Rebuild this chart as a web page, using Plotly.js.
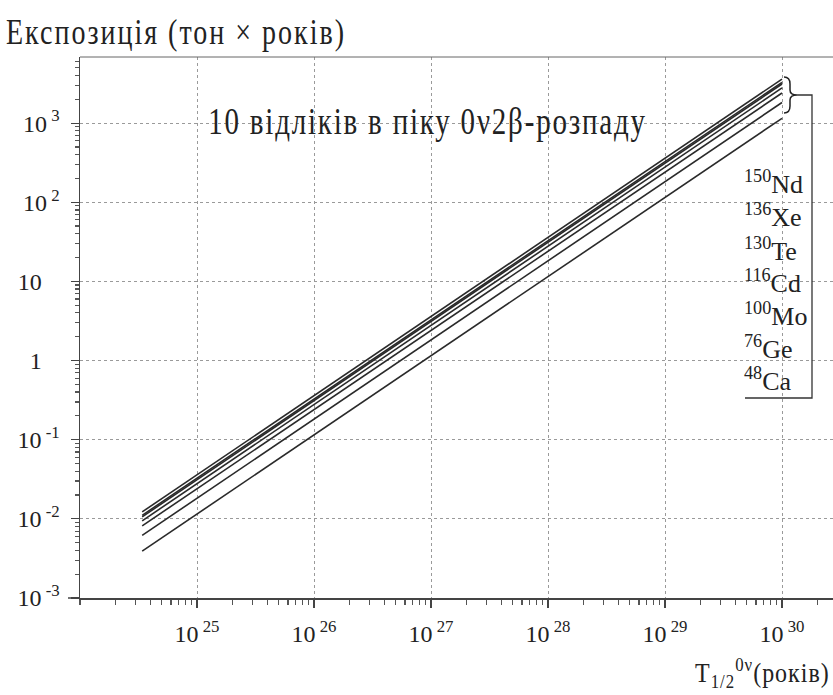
<!DOCTYPE html>
<html>
<head>
<meta charset="utf-8">
<script src="https://cdn.plot.ly/plotly-3.0.1.min.js"></script>
<style>
html,body{margin:0;padding:0;background:#fff;}
#chart{width:833px;height:695px;}
</style>
</head>
<body>
<div id="chart"></div>
<script>
// ---- data ----
const halfLife = [3.4e24, 1e30];                       // T1/2 (years), start and end of every line
const massNumbers = ['150', '136', '130', '116', '100', '76', '48'];
const elements = ['Nd', 'Xe', 'Te', 'Cd', 'Mo', 'Ge', 'Ca'];
const exposureStart = [0.01224, 0.01108, 0.0106, 0.00945, 0.00816, 0.00619, 0.00391]; // ton x years at T1/2 start
const exposureEnd = [3600, 3260, 3120, 2780, 2400, 1820, 1150];                         // ton x years at 1e30
const xTickVals = [1e25, 1e26, 1e27, 1e28, 1e29, 1e30];
const xTickText = ['10<sup> 25</sup>', '10<sup> 26</sup>', '10<sup> 27</sup>', '10<sup> 28</sup>', '10<sup> 29</sup>', '10<sup> 30</sup>'];
const yTickVals = [1e-3, 1e-2, 1e-1, 1, 10, 100, 1000];
const yTickText = ['10<sup> -3</sup>', '10<sup> -2</sup>', '10<sup> -1</sup>', '1\u00a0\u00a0\u00a0', '10\u00a0\u00a0\u00a0', '10<sup> 2</sup>', '10<sup> 3</sup>'];
const yTitle = 'Експозиція (тон × років)';
const xTitle = 'T<sub>1/2</sub><sup>0ν</sup>(років)';
const noteText = '10 відліків в піку 0ν2β-розпаду';

// ---- layout geometry (pixels) ----
const W = 833, H = 695;
const L = 80, T = 57, B = 598, R = 833;
const px = x => (x - L) / (R - L);
const py = y => (B - y) / (B - T);

const serif = "'Liberation Serif', 'Times New Roman', serif";
const ink = '#222';

const traces = elements.map((el, i) => ({
  type: 'scatter',
  mode: 'lines',
  x: halfLife,
  y: [exposureStart[i], exposureEnd[i]],
  name: massNumbers[i] + el,
  line: {color: '#2a2a2a', width: 1.6},
  hoverinfo: 'skip',
  showlegend: false
}));

const labelY = [183, 216, 249, 281, 314, 347, 379];
const annotations = [
  {xref: 'paper', yref: 'paper', x: px(4), y: py(31), xanchor: 'left', yanchor: 'middle', align: 'left',
   text: yTitle, showarrow: false, font: {family: serif, size: 28, color: ink}},
  {xref: 'paper', yref: 'paper', x: px(832), y: py(673), xanchor: 'right', yanchor: 'middle', align: 'right',
   text: xTitle, showarrow: false, font: {family: serif, size: 24, color: ink}},
  {xref: 'paper', yref: 'paper', x: px(427), y: py(121), xanchor: 'center', yanchor: 'middle',
   text: noteText, showarrow: false, font: {family: serif, size: 29, color: ink}}
];
elements.forEach((el, i) => {
  annotations.push({xref: 'paper', yref: 'paper', x: px(742), y: py(labelY[i]), xanchor: 'left', yanchor: 'middle',
    text: '<sup>' + massNumbers[i] + '</sup>' + el, showarrow: false,
    font: {family: serif, size: 26, color: ink}});
});

const shapes = [
  // top frame
  {type: 'line', xref: 'paper', yref: 'paper', x0: 0, x1: 1, y0: 1, y1: 1, line: {color: '#666', width: 1}},
  // x axis extends left of the y axis
  {type: 'line', xref: 'paper', yref: 'paper', x0: px(68), x1: 0, y0: 0, y1: 0, line: {color: '#444', width: 1.5}},
  // curly brace
  {type: 'path', xref: 'paper', yref: 'paper',
   path: `M ${px(784)} ${py(77)} Q ${px(790)} ${py(77)} ${px(790)} ${py(84)} L ${px(790)} ${py(90)} Q ${px(790)} ${py(95)} ${px(797)} ${py(95)} Q ${px(790)} ${py(95)} ${px(790)} ${py(100)} L ${px(790)} ${py(106)} Q ${px(790)} ${py(113)} ${px(784)} ${py(113)}`,
   line: {color: ink, width: 1.5}},
  // bracket to legend box
  {type: 'path', xref: 'paper', yref: 'paper',
   path: `M ${px(797)} ${py(95)} L ${px(812)} ${py(95)} L ${px(812)} ${py(398)} L ${px(745)} ${py(398)}`,
   line: {color: '#333', width: 1.3}}
];

const layout = {
  width: W, height: H,
  margin: {l: L, r: W - R, t: T, b: H - B, pad: 0},
  paper_bgcolor: '#fff', plot_bgcolor: '#fff',
  showlegend: false,
  xaxis: {
    type: 'log', range: [24, 24 + (R - L) / 117],
    tickmode: 'array', tickvals: xTickVals, ticktext: xTickText,
    ticks: 'outside', ticklen: 8, tickwidth: 1.2, tickcolor: '#444',
    ticklabelstandoff: 6,
    showline: true, linecolor: '#444', linewidth: 1.5,
    showgrid: true, gridcolor: '#9a9a9a', griddash: 'dot', gridwidth: 1,
    zeroline: false,
    minor: {tickmode: 'linear', dtick: 'D1', ticks: 'outside', ticklen: 5, tickcolor: '#555', showgrid: false},
    tickfont: {family: serif, size: 24, color: ink}
  },
  yaxis: {
    type: 'log', range: [-3, -3 + (B - T) / 79.15],
    tickmode: 'array', tickvals: yTickVals, ticktext: yTickText,
    ticks: 'outside', ticklen: 8, tickwidth: 1.2, tickcolor: '#444',
    ticklabelstandoff: 6,
    showline: true, linecolor: '#444', linewidth: 1.5,
    showgrid: true, gridcolor: '#9a9a9a', griddash: 'dot', gridwidth: 1,
    zeroline: false,
    minor: {tickmode: 'linear', dtick: 'D1', ticks: 'outside', ticklen: 4, tickcolor: '#555', showgrid: false},
    tickfont: {family: serif, size: 24, color: ink}
  },
  annotations: annotations,
  shapes: shapes
};

Plotly.newPlot('chart', traces, layout, {staticPlot: true, displayModeBar: false}).then(gd => {
  // the reference draws the titles and the note with wide, tall lettering
  [[0, '2px', 1.3], [1, '1px', 1.12], [2, '1.8px', 1.3]].forEach(([idx, ls, sy]) => {
    const t = gd.querySelector('g.annotation[data-index="' + idx + '"] text.annotation-text');
    if (t) {
      t.style.letterSpacing = ls;
      t.style.transformBox = 'fill-box';
      t.style.transformOrigin = 'center';
      t.style.transform = 'scaleY(' + sy + ')';
    }
  });
});
</script>
</body>
</html>
